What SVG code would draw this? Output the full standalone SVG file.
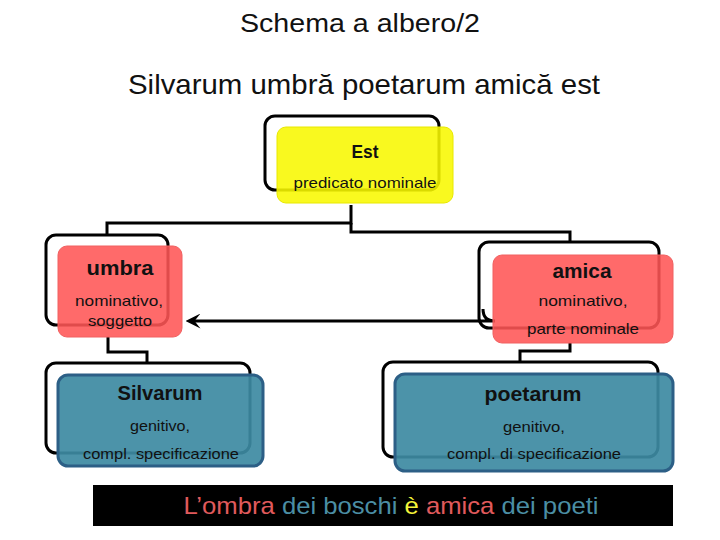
<svg xmlns="http://www.w3.org/2000/svg" width="720" height="540" viewBox="0 0 720 540">
<style>
.frame{fill:none;stroke:#000;stroke-width:3}
.yel{fill:#f8f800;fill-opacity:0.88;stroke:#e8e800;stroke-width:1}
.red{fill:#ff5555;fill-opacity:0.88;stroke:#f06060;stroke-width:1}
.blu{fill:#3d8aa2;fill-opacity:0.92;stroke:#2c5f86;stroke-width:3}
.conn{fill:none;stroke:#000;stroke-width:3}
text{font-family:"Liberation Sans",Arial,sans-serif;fill:#111}
.h{font-size:20px;font-weight:bold;text-anchor:middle}
.s{font-size:15px;text-anchor:middle}
.t{font-size:26px;text-anchor:middle;fill:#111}
</style>
<defs>
<marker id="ah" viewBox="0 0 10 10" refX="7" refY="5" markerWidth="5" markerHeight="5" orient="auto" markerUnits="strokeWidth">
<path d="M0,0 L10,5 L0,10 L4,5 Z" fill="#000"/>
</marker>
</defs>
<rect width="720" height="540" fill="#fff"/>
<text class="t" x="360" y="32" textLength="240" lengthAdjust="spacingAndGlyphs">Schema a albero/2</text>
<text class="t" x="364" y="94" style="font-size:28px" textLength="472" lengthAdjust="spacingAndGlyphs">Silvarum umbră poetarum amică est</text>

<g id="connectors">
<polyline class="conn" points="351,205 351,223 107,223 107,235"/>
<polyline class="conn" points="351,223 351,232 570,232 570,242"/>
<polyline class="conn" points="108,337 108,352 147,352 147,363"/>
<polyline class="conn" points="570,343 570,351 520,351 520,362"/>
<path class="conn" d="M483,309 Q483,321 495,321 L190,321" marker-end="url(#ah)"/>
</g>

<g id="est">
<rect class="frame" x="265" y="116" width="174" height="74" rx="10"/>
<rect class="yel" x="277" y="127" width="176" height="76" rx="9"/>
<text class="h" x="365" y="158" style="font-size:18px" textLength="27" lengthAdjust="spacingAndGlyphs">Est</text>
<text class="s" x="365" y="188" textLength="143" lengthAdjust="spacingAndGlyphs">predicato nominale</text>
</g>

<g id="umbra">
<rect class="frame" x="46" y="235" width="122" height="90" rx="10"/>
<rect class="red" x="58" y="246" width="124" height="91" rx="9"/>
<text class="h" x="120" y="275" textLength="67" lengthAdjust="spacingAndGlyphs">umbra</text>
<text class="s" x="119" y="306" textLength="88" lengthAdjust="spacingAndGlyphs">nominativo,</text>
<text class="s" x="120" y="326" textLength="64" lengthAdjust="spacingAndGlyphs">soggetto</text>
</g>

<g id="amica">
<rect class="frame" x="479" y="242" width="180" height="86" rx="10"/>
<rect class="red" x="493" y="255" width="180" height="88" rx="9"/>
<text class="h" x="582" y="278" textLength="59" lengthAdjust="spacingAndGlyphs">amica</text>
<text class="s" x="583" y="306" textLength="89" lengthAdjust="spacingAndGlyphs">nominativo,</text>
<text class="s" x="583" y="334" textLength="112" lengthAdjust="spacingAndGlyphs">parte nominale</text>
</g>

<g id="silvarum">
<rect class="frame" x="46" y="363" width="204" height="90" rx="10"/>
<rect class="blu" x="58" y="375" width="205" height="91" rx="10"/>
<text class="h" x="160" y="400" textLength="85" lengthAdjust="spacingAndGlyphs">Silvarum</text>
<text class="s" x="160" y="431" textLength="60" lengthAdjust="spacingAndGlyphs">genitivo,</text>
<text class="s" x="161" y="459" textLength="156" lengthAdjust="spacingAndGlyphs">compl. specificazione</text>
</g>

<g id="poetarum">
<rect class="frame" x="383" y="362" width="275" height="95" rx="10"/>
<rect class="blu" x="395" y="374" width="278" height="97" rx="10"/>
<text class="h" x="533" y="401" textLength="97" lengthAdjust="spacingAndGlyphs">poetarum</text>
<text class="s" x="534" y="432" textLength="62" lengthAdjust="spacingAndGlyphs">genitivo,</text>
<text class="s" x="534" y="459" textLength="174" lengthAdjust="spacingAndGlyphs">compl. di specificazione</text>
</g>

<g id="banner">
<rect x="93" y="485" width="580" height="41" fill="#000"/>
<text x="391" y="514" text-anchor="middle" style="font-size:24px;fill:#e05a5c" textLength="415" lengthAdjust="spacingAndGlyphs"><tspan>L’ombra</tspan><tspan style="fill:#4b8ea4"> dei boschi </tspan><tspan style="fill:#f4f43a">è</tspan><tspan style="fill:#e05a5c"> amica</tspan><tspan style="fill:#4b8ea4"> dei poeti</tspan></text>
</g>
</svg>
